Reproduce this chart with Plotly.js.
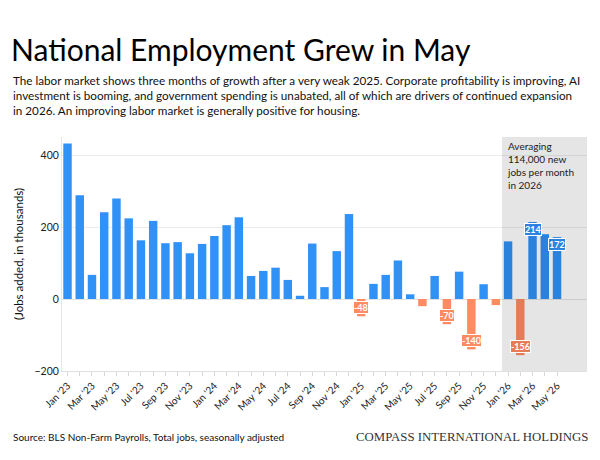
<!DOCTYPE html>
<html>
<head>
<meta charset="utf-8">
<script src="https://cdn.plot.ly/plotly-3.0.1.min.js"></script>
<style>
  html, body { margin: 0; padding: 0; background: #fff; }
  #chart { width: 600px; height: 460px; }
</style>
</head>
<body>
<div id="chart"></div>
<script>
// ---- data ----
const months = [
  "Jan '23","Feb '23","Mar '23","Apr '23","May '23","Jun '23","Jul '23","Aug '23","Sep '23","Oct '23","Nov '23","Dec '23",
  "Jan '24","Feb '24","Mar '24","Apr '24","May '24","Jun '24","Jul '24","Aug '24","Sep '24","Oct '24","Nov '24","Dec '24",
  "Jan '25","Feb '25","Mar '25","Apr '25","May '25","Jun '25","Jul '25","Aug '25","Sep '25","Oct '25","Nov '25","Dec '25",
  "Jan '26","Feb '26","Mar '26","Apr '26","May '26"
];
const jobsAdded = [
  432, 288, 67, 241, 279, 224, 163, 217, 155, 158, 127, 153,
  175, 205, 227, 64, 78, 87, 53, 9, 154, 33, 133, 236,
  -48, 42, 67, 107, 13, -20, 64, -70, 76, -140, 41, -17,
  160, -156, 214, 180, 172
];
const labeledMonths = ["Jan '25", "Aug '25", "Oct '25", "Feb '26", "Mar '26", "May '26"];
const shadedStart = "Jan '26";
const yTicks = [-200, 0, 200, 400];

const titleText = "National Employment Grew in May";
const subtitleText = "The labor market shows three months of growth after a very weak 2025. Corporate profitability is improving, AI<br>investment is booming, and government spending is unabated, all of which are drivers of continued expansion<br>in 2026. An improving labor market is generally positive for housing.";
const noteText = "Averaging<br>114,000 new<br>jobs per month<br>in 2026";
const sourceText = "Source: BLS Non-Farm Payrolls, Total jobs, seasonally adjusted";
const brandText = "COMPASS INTERNATIONAL HOLDINGS";

// ---- styles ----
const BLUE = '#3091F7', ORANGE = '#FF8B63';
const BLUE_SH = '#2B83DE', ORANGE_SH = '#E67D59';
const SANS = 'Lato, "Open Sans", sans-serif';

const W = 600, H = 460, L = 62, R = 13, T = 137, B = 89;
const pw = W - L - R, ph = H - T - B;
const px = x => (x - L) / pw;
const py = y => 1 - (y - T) / ph;

const shadeIdx = months.indexOf(shadedStart);
const barColors = jobsAdded.map(v => v >= 0 ? BLUE : ORANGE);

const trace = {
  type: 'bar',
  x: months,
  y: jobsAdded,
  marker: { color: barColors, line: { width: 0 } },
  hoverinfo: 'x+y'
};

const annotations = [];
labeledMonths.forEach(m => {
  const i = months.indexOf(m);
  const v = jobsAdded[i];
  const shaded = i >= shadeIdx;
  const bg = v >= 0 ? (shaded ? BLUE_SH : BLUE) : (shaded ? ORANGE_SH : ORANGE);
  annotations.push({
    x: m, y: v, xref: 'x', yref: 'y',
    text: String(v), showarrow: false,
    yanchor: v >= 0 ? 'top' : 'bottom',
    yshift: v >= 0 ? -1 : 2,
    font: { family: SANS, size: 9, color: '#fff', weight: 700 },
    bgcolor: bg, bordercolor: '#fff', borderwidth: 1, borderpad: 0
  });
});

annotations.push({
  x: shadeIdx - 0.5, xref: 'x', xshift: 3, xanchor: 'left',
  y: 1, yref: 'paper', yanchor: 'top', yshift: -1,
  text: noteText, align: 'left', showarrow: false,
  font: { family: SANS, size: 10, color: '#222' }
});
annotations.push({
  x: px(11), xref: 'paper', xanchor: 'left',
  y: py(71), yref: 'paper', yanchor: 'top',
  text: subtitleText, align: 'left', showarrow: false,
  font: { family: SANS, size: 11.7, color: '#111' }
});
annotations.push({
  x: px(11), xref: 'paper', xanchor: 'left',
  y: py(437), yref: 'paper', yanchor: 'middle',
  text: sourceText, align: 'left', showarrow: false,
  font: { family: SANS, size: 10, color: '#111' }
});
annotations.push({
  x: px(590), xref: 'paper', xanchor: 'right',
  y: py(437), yref: 'paper', yanchor: 'middle',
  text: brandText, align: 'right', showarrow: false,
  font: { family: '"Liberation Serif", "DejaVu Serif", serif', size: 12.8, color: '#333' }
});

const layout = {
  width: W, height: H,
  margin: { l: L, r: R, t: T, b: B },
  paper_bgcolor: '#fff', plot_bgcolor: '#fff',
  showlegend: false,
  bargap: 0.31,
  title: {
    text: titleText,
    xref: 'container', yref: 'container',
    x: 11 / W, xanchor: 'left',
    y: 1 - 40 / H, yanchor: 'top',
    font: { family: SANS, size: 30, color: '#000' }
  },
  xaxis: {
    type: 'category',
    range: [-0.45, months.length - 1 + 2.45],
    tickmode: 'array',
    tickvals: months,
    ticktext: months.map((m, i) => i % 2 === 0 ? m : ''),
    tickangle: -45,
    ticks: 'outside', ticklen: 4, tickcolor: '#d8d8d8',
    showline: true, linecolor: '#e0e0e0', linewidth: 1,
    showgrid: false,
    tickfont: { family: SANS, size: 10, color: '#222' },
    fixedrange: true
  },
  yaxis: {
    range: [-200, 450],
    tickvals: yTicks,
    ticks: '',
    showline: true, linecolor: '#e6e6e6', linewidth: 1,
    showgrid: true, gridcolor: '#ebebeb', gridwidth: 1,
    zeroline: true, zerolinecolor: '#e3e3e3', zerolinewidth: 1,
    tickfont: { family: SANS, size: 10.5, color: '#222' },
    title: { text: '(Jobs added, in thousands)', font: { family: SANS, size: 11.5, color: '#111' }, standoff: 8 },
    fixedrange: true
  },
  shapes: [{
    type: 'rect', layer: 'above',
    xref: 'x', yref: 'paper',
    x0: shadeIdx - 0.5, x1: months.length - 1 + 2.45,
    y0: 0, y1: 1,
    fillcolor: 'rgba(0,0,0,0.1)', line: { width: 0 }
  }],
  annotations: annotations
};

Plotly.newPlot('chart', [trace], layout, { displayModeBar: false, staticPlot: true });
</script>
</body>
</html>
